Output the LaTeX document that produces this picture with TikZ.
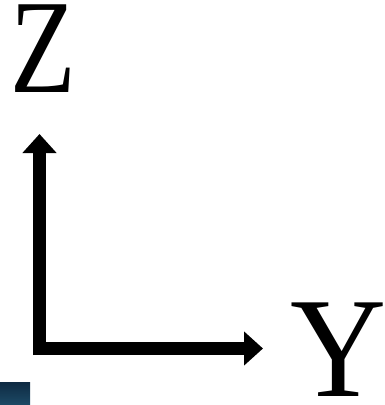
\documentclass[tikz,border=0pt]{standalone}
\usepackage{fontspec}
\setmainfont{Liberation Serif}
\usetikzlibrary{arrows.meta}
\definecolor{tiletop}{HTML}{0E2A42}
\definecolor{tilebot}{HTML}{1D4A66}
\tikzset{
  axis/.style={line width=13pt, line join=miter,
    -{Triangle[width=33pt,length=19pt]}},
  axislabel/.style={inner sep=0pt},
}
\begin{document}
\begin{tikzpicture}[x=1pt,y=-1pt]
  \useasboundingbox (0,0) rectangle (385,405);
  % axis origin and arrow ends
  \coordinate (o) at (39.5,348.5);
  \coordinate (ztip) at (39.5,134);
  \coordinate (ytip) at (263,348.5);
  \draw[axis] ([yshift=-6.5pt]o) -- (ztip);
  \draw[axis] ([xshift=-6.5pt]o) -- (ytip);
  % axis letters
  \node[axislabel, font=\fontsize{134}{134}\selectfont, xscale=0.8] (zl) at (43,48.5) {Z};
  \node[axislabel, font=\fontsize{143}{143}\selectfont, xscale=0.93] (yl) at (338.5,350) {Y};
  % small tile in the corner
  \shade[top color=tiletop, bottom color=tilebot] (0,382) rectangle (30,405);
\end{tikzpicture}
\end{document}
